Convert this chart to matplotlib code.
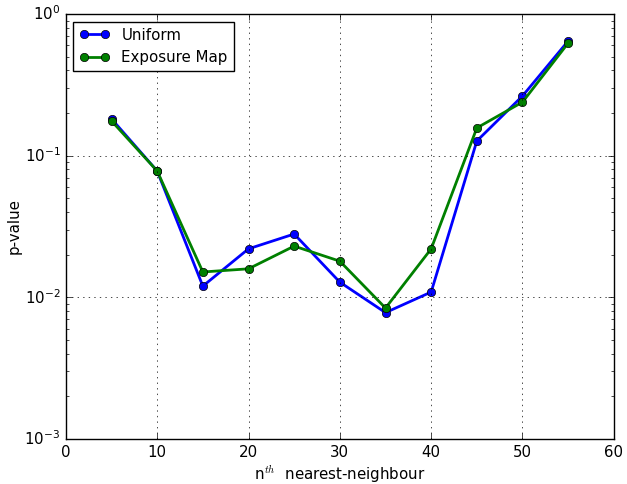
import matplotlib
matplotlib.use("Agg")
import matplotlib.pyplot as plt

plt.style.use("classic")
plt.rcParams["font.size"] = 10.8

n_neighbour = [5, 10, 15, 20, 25, 30, 35, 40, 45, 50, 55]
p_uniform = [0.182, 0.078, 0.0120, 0.022, 0.028, 0.0128, 0.0078, 0.0109, 0.127, 0.264, 0.645]
p_expmap = [0.176, 0.078, 0.0151, 0.0159, 0.023, 0.018, 0.0084, 0.022, 0.157, 0.239, 0.624]

fig = plt.figure(figsize=(6.27, 4.84), dpi=100)
ax = fig.add_axes([0.105, 0.093, 0.874, 0.878])

ax.plot(n_neighbour, p_uniform, "bo-", lw=2, label="Uniform")
ax.plot(n_neighbour, p_expmap, "go-", lw=2, label="Exposure Map")

ax.set_yscale("log")
ax.set_xlim(0, 60)
ax.set_ylim(1e-3, 1)
ax.set_xlabel(r"n$^{th}$  nearest-neighbour", labelpad=3)
ax.set_ylabel("p-value", labelpad=2)
ax.tick_params(labelsize=10.8)
ax.grid(True)
ax.legend(loc="upper left", fontsize=10.8)

fig.savefig("out.png", dpi=100)
